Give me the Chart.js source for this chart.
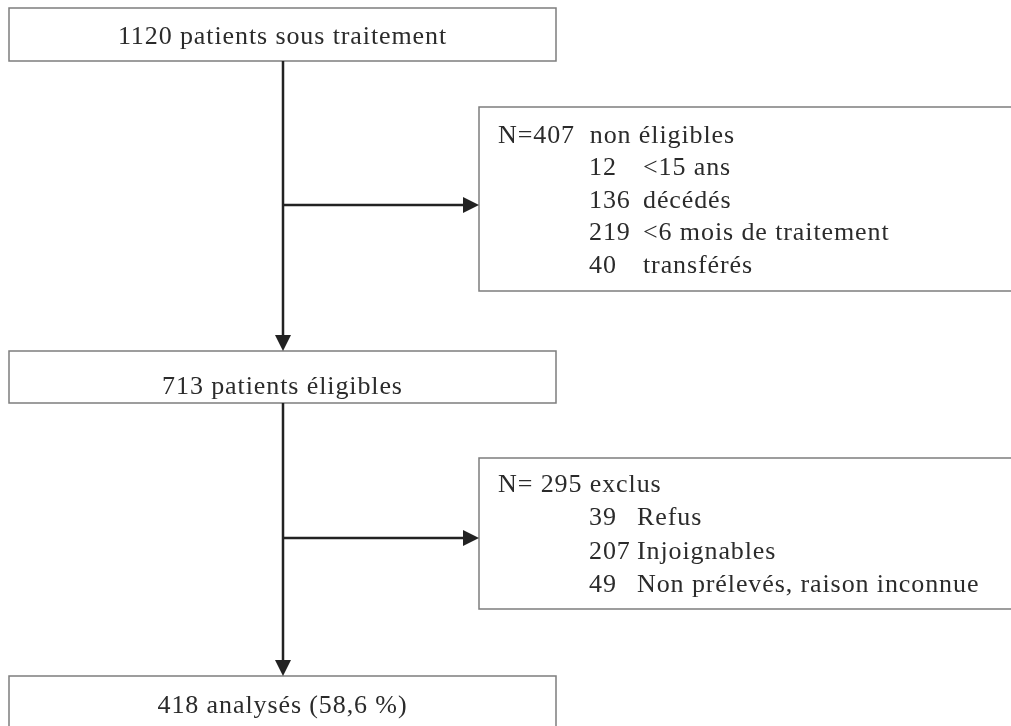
<!DOCTYPE html>
<html>
<head>
<meta charset="utf-8">
<script src="https://cdn.jsdelivr.net/npm/chart.js@4.4.1/dist/chart.umd.min.js"></script>
<style>
  html, body { margin: 0; padding: 0; background: #fff; overflow: hidden; }
  #wrap { position: relative; width: 1011px; height: 726px; }
</style>
</head>
<body>
<div id="wrap"><canvas id="flow"></canvas></div>
<script>
// Flow data
const stageLabels = ['1120 patients sous traitement', '713 patients éligibles', '418 analysés (58,6 %)'];
const exclTitles = ['N=407  non éligibles', 'N= 295 exclus'];
const exclCounts = [[12, 136, 219, 40], [39, 207, 49]];
const exclReasons = [
    ['<15 ans', 'décédés', '<6 mois de traitement', 'transférés'],
    ['Refus', 'Injoignables', 'Non prélevés, raison inconnue']
];

// layout (in scale units, same as pixels here)
const mainBoxes = [[9, 8, 556, 61], [9, 351, 556, 403], [9, 676, 556, 740]];
const sideBoxes = [[479, 107, 1020, 291], [479, 458, 1020, 609]];
const sideFirstLine = [142.5, 491.5];
const sideLineGap = [32.6, 33.5];
const reasonX = [643, 637];
const spineX = 283;
const branchY = [205, 538];

const FONT = '26px "Liberation Serif", "Times New Roman", serif';

const flowPlugin = {
    id: 'flow',
    afterDraw(chart) {
        const ctx = chart.ctx;
        const xs = chart.scales.x, ys = chart.scales.y;
        const px = v => xs.getPixelForValue(v);
        const py = v => ys.getPixelForValue(v);

        ctx.save();
        // boxes
        ctx.strokeStyle = '#7d7d7d';
        ctx.lineWidth = 1.5;
        mainBoxes.concat(sideBoxes).forEach(b => {
            ctx.strokeRect(px(b[0]), py(b[1]), px(b[2]) - px(b[0]), py(b[3]) - py(b[1]));
        });

        // arrows
        ctx.strokeStyle = '#222';
        ctx.fillStyle = '#222';
        ctx.lineWidth = 2.5;
        function arrow(x1, y1, x2, y2) {
            const a = Math.atan2(y2 - y1, x2 - x1);
            const len = 16, half = 8;
            const bx = x2 - len * Math.cos(a), by = y2 - len * Math.sin(a);
            ctx.beginPath();
            ctx.moveTo(x1, y1);
            ctx.lineTo(bx, by);
            ctx.stroke();
            ctx.beginPath();
            ctx.moveTo(x2, y2);
            ctx.lineTo(bx + half * Math.sin(a), by - half * Math.cos(a));
            ctx.lineTo(bx - half * Math.sin(a), by + half * Math.cos(a));
            ctx.closePath();
            ctx.fill();
        }
        for (let i = 0; i < 2; i++) {
            arrow(px(spineX), py(mainBoxes[i][3]), px(spineX), py(mainBoxes[i + 1][1]));
            arrow(px(spineX), py(branchY[i]), px(sideBoxes[i][0]), py(branchY[i]));
        }

        // text
        ctx.fillStyle = '#2b2b2b';
        ctx.font = FONT;
        if ('letterSpacing' in ctx) ctx.letterSpacing = '0.9px';
        ctx.textBaseline = 'alphabetic';
        const mainBase = [44, 394, 713];
        ctx.textAlign = 'center';
        stageLabels.forEach((t, i) => {
            const b = mainBoxes[i];
            ctx.fillText(t, px((b[0] + b[2]) / 2), py(mainBase[i]));
        });
        ctx.textAlign = 'left';
        exclTitles.forEach((t, i) => {
            const y0 = sideFirstLine[i];
            ctx.fillText(t, px(498), py(y0));
            exclCounts[i].forEach((n, j) => {
                const y = y0 + (j + 1) * sideLineGap[i];
                ctx.fillText(String(n), px(589), py(y));
                ctx.fillText(exclReasons[i][j], px(reasonX[i]), py(y));
            });
        });
        ctx.restore();
    }
};

new Chart(document.getElementById('flow').getContext('2d'), {
    type: 'scatter',
    data: {
        datasets: [{
            data: mainBoxes.map((b, i) => ({ x: (b[0] + b[2]) / 2, y: (b[1] + b[3]) / 2, label: stageLabels[i] })),
            pointRadius: 0
        }]
    },
    options: {
        responsive: true,
        maintainAspectRatio: false,
        animation: false,
        layout: { padding: 0 },
        plugins: { legend: { display: false }, tooltip: { enabled: false } },
        scales: {
            x: { type: 'linear', display: false, min: 0, max: 1011 },
            y: { type: 'linear', display: false, min: 0, max: 726, reverse: true }
        }
    },
    plugins: [flowPlugin]
});
</script>
</body>
</html>
